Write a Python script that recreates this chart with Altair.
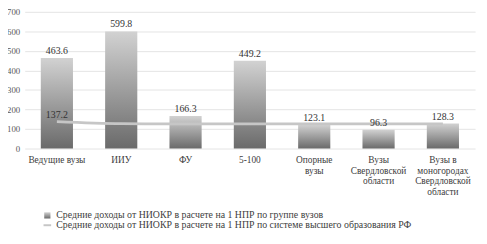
import altair as alt
import pandas as pd

categories = ["Ведущие вузы", "ИИУ", "ФУ", "5-100", "Опорные вузы",
              "Вузы Свердловской области", "Вузы в моногородах Свердловской области"]
label_lines = [["Ведущие вузы"], ["ИИУ"], ["ФУ"], ["5-100"], ["Опорные", "вузы"],
               ["Вузы", "Свердловской", "области"],
               ["Вузы в", "моногородах", "Свердловской", "области"]]
bar_values = [463.6, 599.8, 166.3, 449.2, 123.1, 96.3, 128.3]
line_values = [137.2, 127.0, 126.0, 126.0, 126.0, 126.0, 126.0]
y_ticks = [0, 100, 200, 300, 400, 500, 600, 700]
bar_series = "Средние доходы от НИОКР в расчете на 1 НПР по группе вузов"
line_series = "Средние доходы от НИОКР в расчете на 1 НПР по системе высшего образования РФ"

df = pd.DataFrame({
    "cat": categories,
    "bar": bar_values,
    "line": line_values,
    "s1": [bar_series] * 7,
    "s2": [line_series] * 7,
    "lbl": ["{:.1f}".format(v) for v in bar_values],
    "llbl": ["{:.1f}".format(v) for v in line_values],
    "first": [True] + [False] * 6,
})

label_expr = "{" + ",".join(
    '"{}": {}'.format(c, "[" + ",".join('"{}"'.format(s) for s in l) + "]")
    for c, l in zip(categories, label_lines)) + "}[datum.value]"

FONT = "Liberation Serif"

x = alt.X("cat:N", sort=categories, title=None,
          scale=alt.Scale(paddingInner=0.5, paddingOuter=0.25),
          axis=alt.Axis(labelExpr=label_expr, labelAngle=0, labelFont=FONT,
                        labelFontSize=9.5, labelColor="#404040", labelLineHeight=11,
                        labelPadding=6, domain=False, ticks=False, labelLimit=200))

y_scale = alt.Scale(domain=[0, 700], nice=False)
y_axis = alt.Axis(values=y_ticks, labelFont=FONT, labelFontSize=9, labelColor="#595959",
                  domain=False, ticks=False, gridColor="#e3e3e3", labelPadding=5,
                  labelOverlap=False, title=None)

def yenc(field):
    return alt.Y(field, scale=y_scale, axis=y_axis, title=None)

grad = alt.Gradient(gradient="linear", x1=0, x2=0, y1=0, y2=1,
                    stops=[alt.GradientStop(color="#d2d2d2", offset=0),
                           alt.GradientStop(color="#6a6a6a", offset=1)])

base = alt.Chart(df)

bars = base.mark_bar(fill=grad).encode(
    x=x,
    y=yenc("bar:Q"),
    opacity=alt.Opacity("s1:N", scale=alt.Scale(range=[1]),
                        legend=alt.Legend(title=None, orient="none", legendX=18, legendY=202,
                                          symbolType="square", symbolSize=40,
                                          symbolFillColor="#8a8a8a", symbolStrokeColor="#8a8a8a",
                                          labelFont=FONT, labelFontSize=10,
                                          labelColor="#404040", labelLimit=600)),
)

bar_text = base.mark_text(baseline="bottom", dy=-2, font=FONT, fontSize=10,
                          color="#333333").encode(
    x=x,
    y=yenc("bar:Q"),
    text="lbl:N",
)

line = base.mark_line(interpolate="monotone", strokeWidth=2.8).encode(
    x=x,
    y=yenc("line:Q"),
    stroke=alt.Stroke("s2:N", scale=alt.Scale(range=["#c6c6c6"]),
                      legend=alt.Legend(title=None, orient="none", legendX=18, legendY=212,
                                        symbolType="stroke", symbolSize=60,
                                        symbolStrokeWidth=2,
                                        labelFont=FONT, labelFontSize=10,
                                        labelColor="#404040", labelLimit=600)),
)

line_text = base.mark_text(baseline="bottom", dy=-2, font=FONT, fontSize=10,
                           color="#333333").encode(
    x=x,
    y=yenc("line:Q"),
    text="llbl:N",
).transform_filter("datum.first")

chart = alt.layer(bars, line, bar_text, line_text).properties(
    width=458, height=139,
    autosize=alt.AutoSizeParams(type="none"),
    padding={"left": 17, "top": 2, "right": 4, "bottom": 85},
).configure_view(stroke=None).configure_legend(padding=0, rowPadding=0)

chart.save("out.html", embed_options={"renderer": "svg", "actions": False})
